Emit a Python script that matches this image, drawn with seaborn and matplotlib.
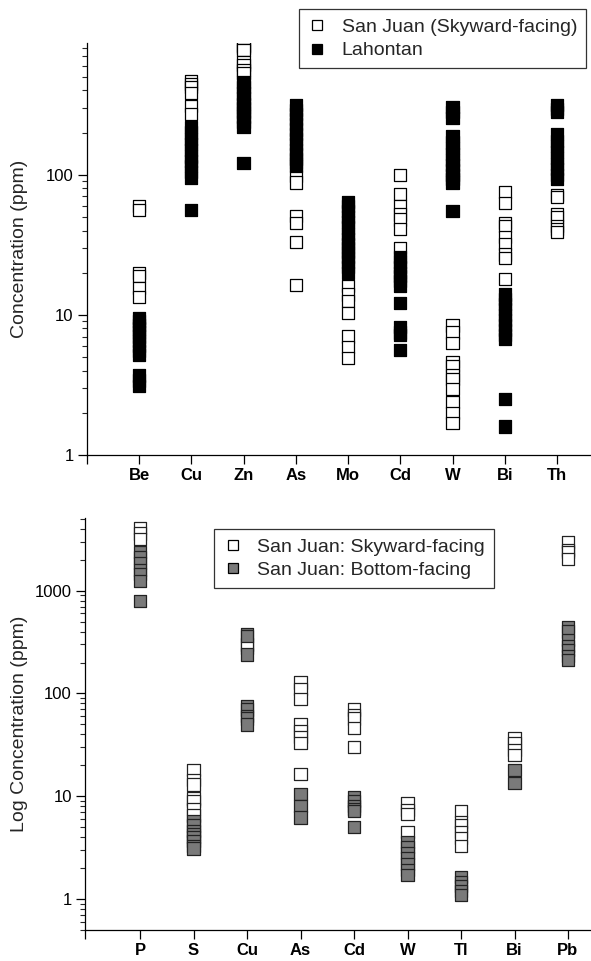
import numpy as np
import pandas as pd
import matplotlib
matplotlib.use('Agg')
import matplotlib.pyplot as plt
from matplotlib.lines import Line2D
from matplotlib.ticker import LogLocator, NullFormatter
import seaborn as sns

# ---- top panel: San Juan skyward vs Lahontan ----
top_elements = ['Be', 'Cu', 'Zn', 'As', 'Mo', 'Cd', 'W', 'Bi', 'Th']
top_groups = ['San Juan (Skyward-facing)', 'Lahontan']

sanjuan_sky = {
    'Be': [60, 56, 20, 19, 15.5, 13.5],
    'Cu': [465, 445, 425, 385, 310, 270],
    'Zn': [830, 800, 780, 640, 610, 560, 530],
    'As': [98, 88, 51, 45, 33, 16.3],
    'Mo': [16, 14, 12.5, 10.3, 7, 5.9, 4.9],
    'Cd': [100, 73, 60, 52, 48, 41, 30],
    'W': [8.4, 7.5, 6.3, 4.6, 4.3, 3.7, 3.5, 2.95, 2.4, 2.0, 1.7],
    'Bi': [75, 63, 45, 43, 36, 32, 27, 25.5, 18],
    'Th': [72, 69, 52, 50, 43, 41, 39],
}
lahontan = {
    'Be': [9.5, 9, 8.5, 8, 7.5, 7, 6.5, 6, 5.5, 5.2, 3.7, 3.4, 3.1],
    'Cu': [218, 200, 180, 165, 150, 135, 125, 115, 105, 95, 56],
    'Zn': [460, 420, 380, 350, 320, 300, 280, 260, 240, 220, 122],
    'As': [315, 290, 270, 250, 230, 210, 195, 180, 165, 150, 140, 130, 122, 115],
    'Mo': [64, 60, 55, 50, 46, 42, 38, 35, 32, 30, 28, 26, 24, 22, 20],
    'Cd': [26, 24, 22, 20, 19, 17.5, 16, 12.1, 8.2, 7.5, 7.2, 5.6],
    'W': [305, 280, 255, 188, 170, 155, 140, 128, 118, 108, 100, 93, 88, 55],
    'Bi': [14, 13, 12, 11, 10, 9.2, 8.5, 7.8, 7.2, 6.7, 2.5, 1.6],
    'Th': [315, 295, 280, 195, 175, 160, 145, 132, 120, 110, 100, 93],
}

# ---- bottom panel: San Juan skyward vs bottom-facing ----
bot_elements = ['P', 'S', 'Cu', 'As', 'Cd', 'W', 'Tl', 'Bi', 'Pb']
bot_groups = ['San Juan: Skyward-facing', 'San Juan: Bottom-facing']

skyward = {
    'P': [4100, 3600, 3200],
    'S': [18, 14.5, 13, 9.5, 9, 7.5, 6.5],
    'Cu': [300, 280],
    'As': [128, 110, 88, 50, 43, 38, 33, 16.4],
    'Cd': [70, 62, 57, 46, 30],
    'W': [8.6, 7.3, 6.7, 4.5],
    'Tl': [7.2, 5.6, 5.2, 4.5, 3.9, 3.3],
    'Bi': [37, 33, 28, 25],
    'Pb': [3000, 2500, 2400, 2050],
}
bottom_facing = {
    'P': [2400, 2100, 1850, 1600, 1450, 1250, 790],
    'S': [5.7, 5.2, 4.6, 4.3, 4.0, 3.7, 3.3, 3.1],
    'Cu': [380, 360, 240, 75, 70, 60, 57, 50],
    'As': [10.5, 8, 6.2],
    'Cd': [9.8, 9, 8, 7.5, 7.2, 5],
    'W': [3.6, 3.2, 2.8, 2.5, 2.2, 1.9, 1.7],
    'Tl': [1.65, 1.45, 1.35, 1.2, 1.1],
    'Bi': [18, 13.5],
    'Pb': [440, 400, 330, 290, 265, 230, 210],
}


def long_form(elements, groups, series):
    rows = []
    for el in elements:
        for grp, data in zip(groups, series):
            for v in data[el]:
                rows.append({'element': el, 'group': grp, 'value': v})
    return pd.DataFrame(rows)


df_top = long_form(top_elements, top_groups, [sanjuan_sky, lahontan])
df_bot = long_form(bot_elements, bot_groups, [skyward, bottom_facing])

sns.set_style('ticks')
plt.rcParams['font.family'] = ['Liberation Sans', 'DejaVu Sans']

fig = plt.figure(figsize=(5.91, 9.61), dpi=100)
ax1 = fig.add_axes([0.147, 0.5265, 0.853, 0.4287])
ax2 = fig.add_axes([0.1438, 0.0323, 0.8562, 0.4287])

top_pal = {top_groups[0]: 'white', top_groups[1]: 'black'}
bot_pal = {bot_groups[0]: 'white', bot_groups[1]: '#7a7a7a'}

sns.stripplot(data=df_top, x='element', y='value', hue='group',
              order=top_elements, hue_order=top_groups, palette=top_pal,
              jitter=False, marker='s', size=8.8, linewidth=0.9,
              edgecolor='black', log_scale=True, legend=False, ax=ax1)
sns.stripplot(data=df_bot, x='element', y='value', hue='group',
              order=bot_elements, hue_order=bot_groups, palette=bot_pal,
              jitter=False, marker='s', size=8.8, linewidth=0.9,
              edgecolor='#222222', log_scale=True, legend=False, ax=ax2)


def style_axis(ax, elements, xleft, xright, ylo, yhi, majors, ylabel, lx):
    ax.set_xlim(xleft, xright)
    ax.set_xticks([xleft] + list(range(len(elements))))
    ax.set_xticklabels([''] + elements, fontweight='bold', fontsize=12)
    ax.set_ylim(ylo, yhi)
    ax.set_yticks(majors)
    ax.set_yticklabels([str(m) for m in majors], fontsize=12)
    ax.yaxis.set_minor_locator(LogLocator(base=10, subs=np.arange(2, 10)))
    ax.yaxis.set_minor_formatter(NullFormatter())
    ax.set_xlabel('')
    ax.set_ylabel(ylabel, fontsize=14)
    ax.yaxis.set_label_coords(lx, 0.5)
    ax.tick_params(axis='both', which='major', direction='out',
                   length=6.5, width=0.9, pad=3, colors='black')
    ax.tick_params(axis='y', which='minor', direction='out',
                   length=3.5, width=0.8)
    for s in ['left', 'bottom']:
        ax.spines[s].set_linewidth(0.9)
        ax.spines[s].set_color('black')
    sns.despine(ax=ax)


style_axis(ax1, top_elements, -1, 8.65, 1, 870, [1, 10, 100],
           'Concentration (ppm)', -0.117)
style_axis(ax2, bot_elements, -1.03, 8.43, 0.5, 5100, [1, 10, 100, 1000],
           'Log Concentration (ppm)', -0.113)


def legend_for(ax, groups, pal, anchor):
    handles = [Line2D([], [], linestyle='none', marker='s', markersize=6.5,
                      markerfacecolor=pal[g], markeredgecolor='black',
                      markeredgewidth=0.9) for g in groups]
    leg = ax.legend(handles, groups, loc='upper right',
                    bbox_to_anchor=anchor, bbox_transform=fig.transFigure,
                    fontsize=14, frameon=True, fancybox=False, shadow=False,
                    borderpad=0.46, labelspacing=0.3, handlelength=1.0,
                    handletextpad=0.75, borderaxespad=0)
    leg.get_frame().set_edgecolor('black')
    leg.get_frame().set_linewidth(0.9)
    return leg


legend_for(ax1, top_groups, top_pal, (0.9915, 0.9903))
legend_for(ax2, bot_groups, bot_pal, (0.836, 0.4495))

fig.savefig('out.png', dpi=100)
plt.close(fig)
